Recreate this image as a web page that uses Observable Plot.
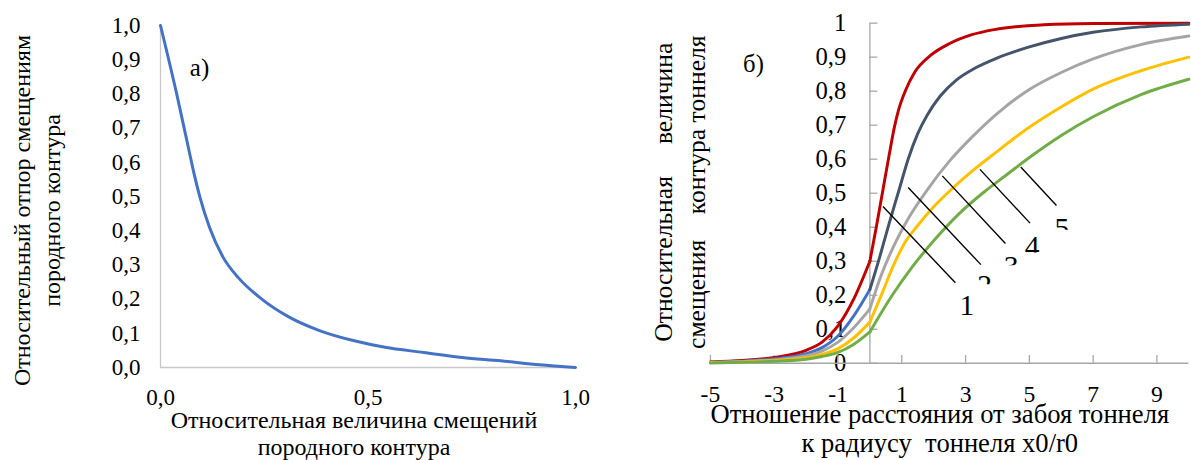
<!DOCTYPE html>
<html>
<head>
<meta charset="utf-8">
<script src="https://cdn.jsdelivr.net/npm/d3@7"></script>
<script src="https://cdn.jsdelivr.net/npm/@observablehq/plot@0.6"></script>
<style>
html, body { margin: 0; padding: 0; background: #fff; overflow: hidden; width: 1191px; height: 460px; }
#wrap { position: relative; width: 1191px; height: 460px; overflow: hidden; }
#pa { position: absolute; left: 0; top: 0; }
#pb { position: absolute; left: 600px; top: 0; }
#wrap svg, #wrap svg text, #wrap svg tspan { font-family: "Liberation Serif", "Tinos", "Times New Roman", "DejaVu Serif", serif !important; white-space: pre; }
</style>
</head>
<body>
<div id="wrap"><div id="pa"></div><div id="pb"></div></div>
<script>
// ---------- Panel а) data ----------
const aX = [0, 0.039, 0.067, 0.081, 0.095, 0.118, 0.151, 0.188, 0.244, 0.309, 0.383, 0.467, 0.541, 0.634, 0.727, 0.82, 0.913, 1.0];
const aY = [1.0, 0.80, 0.644, 0.566, 0.498, 0.41, 0.322, 0.262, 0.200, 0.148, 0.108, 0.078, 0.059, 0.044, 0.029, 0.0195, 0.008, 0];
const aXTicks = [0, 0.5, 1];
const aYTicks = [0, 0.1, 0.2, 0.3, 0.4, 0.5, 0.6, 0.7, 0.8, 0.9, 1.0];
const aPanelLabel = ["а)"];
const aPanelPos = [0.094, 0.877];
const aXTitle = "Относительная величина смещений\nпородного контура";
const aYTitle = "Относительный отпор смещениям\nпородного контура";

// ---------- Panel б) data ----------
const bXTicks = [-5, -3, -1, 1, 3, 5, 7, 9];
const bYTicks = [0, 0.1, 0.2, 0.3, 0.4, 0.5, 0.6, 0.7, 0.8, 0.9, 1];
const curveNames = ["1", "2", "3", "4", "5"];
// before the face (x0/r0 <= 0)
const negX = [-5, -4, -3, -2, -1.5, -1, -0.5, 0];
const negY1 = [0.004, 0.008, 0.017, 0.038, 0.062, 0.11, 0.19, 0.30];
const negY2 = [0.003, 0.006, 0.013, 0.028, 0.046, 0.08, 0.14, 0.217];
const negY3 = [0.002, 0.005, 0.010, 0.022, 0.036, 0.062, 0.105, 0.16];
const negY4 = [0.002, 0.004, 0.008, 0.016, 0.026, 0.043, 0.075, 0.121];
const negY5 = [0.001, 0.003, 0.006, 0.012, 0.020, 0.032, 0.056, 0.092];
// behind the face (x0/r0 >= 0)
const posX1 = [0, 0.2, 0.4, 0.6, 0.77, 0.9, 1.13, 1.4, 1.9, 2.5, 3.2, 3.9, 5.45, 7, 10];
const posY1 = [0.30, 0.40, 0.505, 0.61, 0.695, 0.745, 0.805, 0.855, 0.905, 0.94, 0.966, 0.981, 0.995, 0.999, 1.0];
const posX2 = [0, 0.3, 0.6, 0.9, 1.2, 1.5, 1.8, 2.2, 2.7, 3.3, 4, 5, 6, 7, 8.5, 10];
const posY2 = [0.217, 0.31, 0.41, 0.505, 0.60, 0.675, 0.73, 0.785, 0.832, 0.868, 0.898, 0.93, 0.955, 0.973, 0.989, 0.997];
const posX3 = [0, 0.3, 0.7, 1.2, 1.8, 2.5, 3.2, 4, 5, 6, 7, 8.5, 10];
const posY3 = [0.16, 0.245, 0.335, 0.425, 0.51, 0.595, 0.665, 0.735, 0.805, 0.855, 0.895, 0.937, 0.962];
const posX4 = [0, 0.2, 0.4, 0.75, 1.1, 1.5, 2.0, 2.6, 3.3, 3.91, 4.94, 5.97, 7, 8.5, 10];
const posY4 = [0.121, 0.165, 0.21, 0.29, 0.355, 0.405, 0.46, 0.515, 0.572, 0.617, 0.69, 0.752, 0.806, 0.86, 0.90];
const posX5 = [0, 0.3, 0.7, 1.3, 2.0, 2.8, 3.6, 4.3, 5.0, 6.0, 7, 8.5, 10];
const posY5 = [0.092, 0.14, 0.20, 0.28, 0.36, 0.44, 0.505, 0.555, 0.605, 0.67, 0.725, 0.79, 0.835];
const negColors = ["#C00000", "#4472C4", "#A5A5A5", "#FFC000", "#70AD47"];
const posColors = ["#C00000", "#44546A", "#A5A5A5", "#FFC000", "#70AD47"];
// leader lines and their labels
const leadX1 = [0.41, 1.20, 2.27, 3.45, 4.73];
const leadY1 = [0.461, 0.517, 0.551, 0.570, 0.577];
const leadX2 = [2.68, 3.48, 4.25, 5.02, 5.85];
const leadY2 = [0.237, 0.290, 0.352, 0.412, 0.464];
const labX = [3.04, 3.6, 4.43, 5.09, 6.02];
const labY = [0.169, 0.229, 0.285, 0.343, 0.395];
const bPanelLabel = ["б)"];
const bPanelPos = [-3.65, 0.879];
const bXTitle = "Отношение расстояния от забоя тоннеля\nк радиусу  тоннеля x0/r0";
const bYTitle = "Относительная     величина\nсмещения    контура тоннеля";

const SERIF = "Liberation Serif";
const fmtComma = d => d.toFixed(1).replace(".", ",");
const fmtB = d => (d === 0 ? "0" : d === 1 ? "1" : fmtComma(d));

// ---------- Panel а) ----------
const aRows = aX.map((x, i) => ({x, y: aY[i]}));
const plotA = Plot.plot({
  width: 600, height: 460,
  marginLeft: 160, marginRight: 25, marginTop: 25, marginBottom: 93,
  x: {domain: [0, 1], axis: null},
  y: {domain: [0, 1], axis: null},
  style: {fontSize: "23px", color: "#000", background: "#fff"},
  marks: [
    Plot.ruleX([0], {stroke: "#c8c8c8", strokeWidth: 1.3}),
    Plot.ruleY([0], {stroke: "#c8c8c8", strokeWidth: 1.3}),
    Plot.text(aYTicks, {x: 0, y: d => d, text: fmtComma, textAnchor: "end", dx: -20, fontSize: 23, fontFamily: SERIF}),
    Plot.text(aXTicks, {x: d => d, y: 0, text: fmtComma, dy: 30, fontSize: 23, fontFamily: SERIF}),
    Plot.line(aRows, {x: "x", y: "y", stroke: "#4472C4", strokeWidth: 3, curve: "monotone-x"}),
    Plot.text(aPanelLabel, {x: () => aPanelPos[0], y: () => aPanelPos[1], text: d => d, fontSize: 25, fontFamily: SERIF}),
    Plot.text([aXTitle], {frameAnchor: "bottom", text: d => d, textAnchor: "middle", lineAnchor: "middle", lineHeight: 1.125, dx: -14, dy: 65, fontSize: 24, fontFamily: SERIF}),
    Plot.text([aYTitle], {frameAnchor: "left", rotate: -90, text: d => d, textAnchor: "middle", lineAnchor: "middle", lineHeight: 1.25, dx: -125, dy: 14, fontSize: 24, fontFamily: SERIF})
  ]
});
document.getElementById("pa").appendChild(plotA);

// ---------- Panel б) ----------
const negYs = [negY1, negY2, negY3, negY4, negY5];
const posXs = [posX1, posX2, posX3, posX4, posX5];
const posYs = [posY1, posY2, posY3, posY4, posY5];
const bRows = [];
curveNames.forEach((name, k) => {
  negX.forEach((x, i) => bRows.push({key: name + "-", x, y: negYs[k][i], c: negColors[k]}));
  posXs[k].forEach((x, i) => bRows.push({key: name + "+", x, y: posYs[k][i], c: posColors[k]}));
});
const leaders = leadX1.map((x1, i) => ({x1, y1: leadY1[i], x2: leadX2[i], y2: leadY2[i]}));
const labels = curveNames.map((t, i) => ({t, x: labX[i], y: labY[i]}));
const GRAY = "#a6a6a6";
const plotB = Plot.plot({
  width: 600, height: 460,
  marginLeft: 111.6, marginRight: 2.7, marginTop: 23, marginBottom: 91.7,
  x: {domain: [-5, 10], axis: null},
  y: {domain: [0, 1], axis: null},
  color: {type: "identity"},
  style: {fontSize: "24px", color: "#000", background: "#fff", overflow: "visible"},
  marks: [
    Plot.text(bYTicks, {x: 0, y: d => d, text: fmtB, textAnchor: "end", dx: -24, fontSize: 25, fontFamily: SERIF}),
    Plot.text(bXTicks, {x: d => d, y: 0, text: d => String(d), dy: 32, fontSize: 24, fontFamily: SERIF}),
    Plot.ruleY([0], {stroke: GRAY, strokeWidth: 1.3}),
    Plot.ruleX([0], {y1: 0, y2: 1, stroke: GRAY, strokeWidth: 1.3}),
    Plot.ruleY(bYTicks, {y: d => d, x1: 0, x2: 0.25, stroke: GRAY, strokeWidth: 1.3}),
    Plot.ruleX(bXTicks, {x: d => d, y1: 0, y2: 0.023, stroke: GRAY, strokeWidth: 1.3}),
    Plot.line(bRows, {x: "x", y: "y", z: "key", stroke: "c", strokeWidth: 3, curve: "monotone-x"}),
    Plot.link(leaders, {x1: "x1", y1: "y1", x2: "x2", y2: "y2", stroke: "#000", strokeWidth: 1.4}),
    Plot.text(labels, {x: "x", y: "y", text: "t", fontSize: 30, fontFamily: SERIF}),
    Plot.text(bPanelLabel, {x: () => bPanelPos[0], y: () => bPanelPos[1], text: d => d, fontSize: 25, fontFamily: SERIF}),
    Plot.text([bXTitle], {frameAnchor: "bottom", text: d => d, textAnchor: "middle", lineAnchor: "middle", lineHeight: 1.11, dx: -10, dy: 66, fontSize: 27, fontFamily: SERIF}),
    Plot.text([bYTitle], {frameAnchor: "left", rotate: -90, text: d => d, textAnchor: "middle", lineAnchor: "middle", lineHeight: 1.3, dx: -33, dy: -1, fontSize: 26, fontFamily: SERIF})
  ]
});
document.getElementById("pb").appendChild(plotB);

// In the reference, labels 2–5 are only partly visible (their lower parts are cut off)
const shown = {"2": 0.45, "3": 0.45, "4": 0.8, "5": 0.55};
const ns = "http://www.w3.org/2000/svg";
let defs = plotB.querySelector("defs");
if (!defs) { defs = document.createElementNS(ns, "defs"); plotB.insertBefore(defs, plotB.firstChild); }
plotB.querySelectorAll('g[font-size="30"] text').forEach((t, i) => {
  const f = shown[t.textContent.trim()];
  if (f === undefined) return;
  const b = t.getBBox();
  const fs = 30;
  const cp = document.createElementNS(ns, "clipPath");
  cp.setAttribute("id", "labclip" + i);
  const r = document.createElementNS(ns, "rect");
  r.setAttribute("x", b.x - 4);
  r.setAttribute("y", b.y - 4);
  r.setAttribute("width", b.width + 8);
  r.setAttribute("height", 4 + 0.215 * fs + f * 0.676 * fs);
  cp.appendChild(r);
  defs.appendChild(cp);
  t.setAttribute("clip-path", "url(#labclip" + i + ")");
});
</script>
</body>
</html>
